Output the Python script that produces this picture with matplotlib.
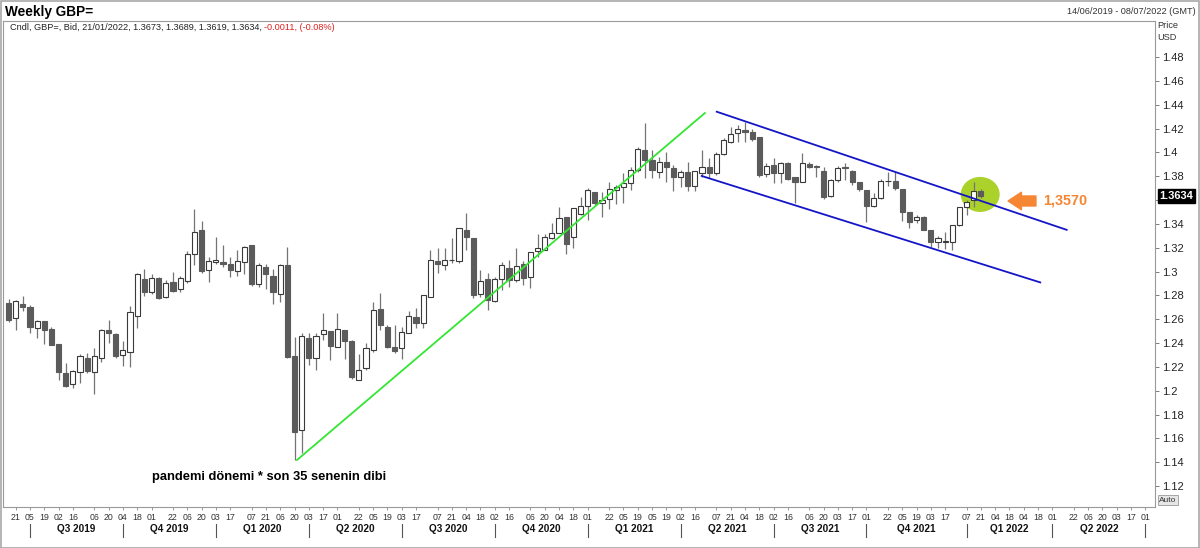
import numpy as np
import pandas as pd
import matplotlib
matplotlib.use("Agg")
import matplotlib.pyplot as plt
from matplotlib.patches import Ellipse, Rectangle
from matplotlib.transforms import blended_transform_factory

plt.rcParams["font.family"] = ["Liberation Sans", "DejaVu Sans"]

# weekly candles, first bar = week of 14/06/2019, last = 21/01/2022
START = "2019-06-14"

OPEN = [
    1.2740, 1.2607, 1.2728, 1.2702, 1.2524, 1.2582, 1.2521, 1.2395, 1.2152, 1.2057,
    1.2154, 1.2272, 1.2154, 1.2277, 1.2510, 1.2476, 1.2297, 1.2328, 1.2630, 1.2935,
    1.2831, 1.2949, 1.2784, 1.2912, 1.2856, 1.2923, 1.3144, 1.3346, 1.3009, 1.3077,
    1.3083, 1.3063, 1.3005, 1.3083, 1.3223, 1.2895, 1.3041, 1.2963, 1.2809, 1.3052,
    1.2294, 1.1671, 1.2440, 1.2272, 1.2473, 1.2501, 1.2370, 1.2509, 1.2417, 1.2090,
    1.2188, 1.2342, 1.2686, 1.2537, 1.2370, 1.2356, 1.2487, 1.2621, 1.2571, 1.2789,
    1.3088, 1.3055, 1.3094, 1.3088, 1.3348, 1.3284, 1.2809, 1.2934, 1.2755, 1.2934,
    1.3032, 1.2929, 1.3063, 1.2957, 1.3172, 1.3181, 1.3278, 1.3320, 1.3455, 1.3287,
    1.3480, 1.3553, 1.3670, 1.3572, 1.3606, 1.3684, 1.3712, 1.3740, 1.3852, 1.4019,
    1.3936, 1.3838, 1.3922, 1.3866, 1.3796, 1.3838, 1.3718, 1.3830, 1.3880, 1.3830,
    1.3983, 1.4089, 1.4159, 1.4187, 1.4173, 1.4131, 1.3818, 1.3894, 1.3824, 1.3913,
    1.3790, 1.3754, 1.3902, 1.3885, 1.3843, 1.3636, 1.3768, 1.3880, 1.3846, 1.3754,
    1.3684, 1.3550, 1.3614, 1.3759, 1.3759, 1.3690, 1.3502, 1.3432, 1.3460, 1.3348,
    1.3250, 1.3250, 1.3250, 1.3390, 1.3539, 1.3600, 1.3673,
]
HIGH = [
    1.2767, 1.2760, 1.2795, 1.2719, 1.2590, 1.2588, 1.2532, 1.2395, 1.2230, 1.2174,
    1.2308, 1.2319, 1.2361, 1.2515, 1.2593, 1.2482, 1.2420, 1.2714, 1.2991, 1.3021,
    1.2979, 1.2951, 1.2929, 1.2993, 1.2963, 1.3175, 1.3522, 1.3427, 1.3125, 1.3293,
    1.3220, 1.3125, 1.3178, 1.3217, 1.3223, 1.3069, 1.3060, 1.3021, 1.3063, 1.3209,
    1.2454, 1.2487, 1.2481, 1.2481, 1.2655, 1.2501, 1.2649, 1.2509, 1.2426, 1.2305,
    1.2398, 1.2747, 1.2823, 1.2551, 1.2551, 1.2537, 1.2669, 1.2691, 1.2803, 1.3181,
    1.3195, 1.3195, 1.3278, 1.3362, 1.3488, 1.3284, 1.3013, 1.2985, 1.2957, 1.3083,
    1.3097, 1.3195, 1.3088, 1.3167, 1.3315, 1.3315, 1.3404, 1.3544, 1.3455, 1.3530,
    1.3628, 1.3698, 1.3670, 1.3670, 1.3754, 1.3726, 1.3824, 1.3880, 1.4047, 1.4243,
    1.4019, 1.3964, 1.4006, 1.3894, 1.3852, 1.3922, 1.3843, 1.4019, 1.3950, 1.4006,
    1.4117, 1.4215, 1.4229, 1.4257, 1.4193, 1.4131, 1.3908, 1.3950, 1.3922, 1.3922,
    1.3790, 1.3992, 1.3922, 1.3894, 1.3880, 1.3776, 1.3885, 1.3908, 1.3852, 1.3754,
    1.3684, 1.3656, 1.3776, 1.3838, 1.3838, 1.3690, 1.3502, 1.3474, 1.3466, 1.3348,
    1.3298, 1.3334, 1.3390, 1.3544, 1.3600, 1.3754, 1.3689,
]
LOW = [
    1.2579, 1.2510, 1.2672, 1.2487, 1.2445, 1.2389, 1.2381, 1.2090, 1.2029, 1.2026,
    1.2068, 1.2152, 1.1973, 1.2244, 1.2398, 1.2272, 1.2210, 1.2202, 1.2524, 1.2795,
    1.2812, 1.2772, 1.2775, 1.2831, 1.2831, 1.2901, 1.3055, 1.2985, 1.2909, 1.3063,
    1.3035, 1.2957, 1.2965, 1.2979, 1.2881, 1.2873, 1.2853, 1.2728, 1.2742, 1.2277,
    1.1419, 1.1475, 1.2216, 1.2174, 1.2426, 1.2258, 1.2370, 1.2269, 1.2100, 1.2090,
    1.2174, 1.2328, 1.2509, 1.2356, 1.2319, 1.2263, 1.2487, 1.2523, 1.2523, 1.2789,
    1.2990, 1.3013, 1.3069, 1.3069, 1.3181, 1.2775, 1.2789, 1.2677, 1.2747, 1.2845,
    1.2873, 1.2915, 1.2887, 1.2859, 1.3119, 1.3181, 1.3273, 1.3320, 1.3144, 1.3195,
    1.3474, 1.3432, 1.3560, 1.3460, 1.3524, 1.3566, 1.3572, 1.3684, 1.3838, 1.3782,
    1.3782, 1.3782, 1.3754, 1.3678, 1.3712, 1.3678, 1.3678, 1.3796, 1.3782, 1.3810,
    1.3978, 1.4075, 1.4089, 1.4089, 1.4095, 1.3796, 1.3790, 1.3740, 1.3746, 1.3768,
    1.3578, 1.3754, 1.3866, 1.3796, 1.3608, 1.3622, 1.3754, 1.3768, 1.3726, 1.3678,
    1.3418, 1.3544, 1.3608, 1.3718, 1.3684, 1.3427, 1.3362, 1.3410, 1.3348, 1.3203,
    1.3195, 1.3186, 1.3181, 1.3382, 1.3474, 1.3539, 1.3619,
]
CLOSE = [
    1.2594, 1.2753, 1.2700, 1.2537, 1.2585, 1.2510, 1.2386, 1.2160, 1.2043, 1.2166,
    1.2294, 1.2166, 1.2294, 1.2510, 1.2487, 1.2294, 1.2339, 1.2658, 1.2982, 1.2826,
    1.2946, 1.2775, 1.2907, 1.2837, 1.2946, 1.3147, 1.3332, 1.3007, 1.3088, 1.3094,
    1.3063, 1.3013, 1.3088, 1.3209, 1.2895, 1.3052, 1.2977, 1.2826, 1.3052, 1.2286,
    1.1651, 1.2462, 1.2272, 1.2462, 1.2507, 1.2375, 1.2515, 1.2420, 1.2112, 1.2174,
    1.2356, 1.2677, 1.2551, 1.2370, 1.2333, 1.2490, 1.2630, 1.2571, 1.2803, 1.3097,
    1.3060, 1.3094, 1.3097, 1.3362, 1.3292, 1.2803, 1.2923, 1.2761, 1.2937, 1.3055,
    1.2929, 1.3049, 1.2948, 1.3167, 1.3200, 1.3292, 1.3320, 1.3446, 1.3231, 1.3530,
    1.3553, 1.3684, 1.3572, 1.3600, 1.3690, 1.3712, 1.3745, 1.3852, 1.4025, 1.3936,
    1.3852, 1.3922, 1.3880, 1.3796, 1.3838, 1.3718, 1.3843, 1.3880, 1.3824, 1.3983,
    1.4103, 1.4151, 1.4193, 1.4168, 1.4109, 1.3810, 1.3885, 1.3824, 1.3908, 1.3776,
    1.3754, 1.3908, 1.3880, 1.3874, 1.3622, 1.3768, 1.3871, 1.3866, 1.3748, 1.3690,
    1.3550, 1.3614, 1.3759, 1.3762, 1.3698, 1.3502, 1.3418, 1.3460, 1.3348, 1.3250,
    1.3278, 1.3253, 1.3390, 1.3544, 1.3586, 1.3678, 1.3634,
]

TICK_DATES = [
    "2019-06-21", "2019-07-05", "2019-07-19", "2019-08-02", "2019-08-16", "2019-09-06",
    "2019-09-20", "2019-10-04", "2019-10-18", "2019-11-01", "2019-11-22", "2019-12-06",
    "2019-12-20", "2020-01-03", "2020-01-17", "2020-02-07", "2020-02-21", "2020-03-06",
    "2020-03-20", "2020-04-03", "2020-04-17", "2020-05-01", "2020-05-22", "2020-06-05",
    "2020-06-19", "2020-07-03", "2020-07-17", "2020-08-07", "2020-08-21", "2020-09-04",
    "2020-09-18", "2020-10-02", "2020-10-16", "2020-11-06", "2020-11-20", "2020-12-04",
    "2020-12-18", "2021-01-01", "2021-01-22", "2021-02-05", "2021-02-19", "2021-03-05",
    "2021-03-19", "2021-04-02", "2021-04-16", "2021-05-07", "2021-05-21", "2021-06-04",
    "2021-06-18", "2021-07-02", "2021-07-16", "2021-08-06", "2021-08-20", "2021-09-03",
    "2021-09-17", "2021-10-01", "2021-10-22", "2021-11-05", "2021-11-19", "2021-12-03",
    "2021-12-17", "2022-01-07", "2022-01-21", "2022-02-04", "2022-02-18", "2022-03-04",
    "2022-03-18", "2022-04-01", "2022-04-22", "2022-05-06", "2022-05-20", "2022-06-03",
    "2022-06-17", "2022-07-01",
]

QUARTER_STARTS = [
    "2019-07-01", "2019-10-01", "2020-01-01", "2020-04-01", "2020-07-01", "2020-10-01",
    "2021-01-01", "2021-04-01", "2021-07-01", "2021-10-01", "2022-01-01", "2022-04-01",
    "2022-07-01",
]
QUARTER_LABELS = [
    "Q3 2019", "Q4 2019", "Q1 2020", "Q2 2020", "Q3 2020", "Q4 2020",
    "Q1 2021", "Q2 2021", "Q3 2021", "Q4 2021", "Q1 2022", "Q2 2022",
]

PRICE_TICKS = [1.12, 1.14, 1.16, 1.18, 1.2, 1.22, 1.24, 1.26, 1.28, 1.3,
               1.32, 1.34, 1.36, 1.38, 1.4, 1.42, 1.44, 1.46, 1.48]

# hand-drawn trend lines (week index, price)
GREEN_X = [40.35, 97.4]
GREEN_Y = [1.1419, 1.4330]
BLUE_TOP_X = [99.05, 148.0]
BLUE_TOP_Y = [1.4341, 1.3350]
BLUE_BOT_X = [96.95, 144.3]
BLUE_BOT_Y = [1.3802, 1.2909]

LAST_PRICE = 1.3634
LEVEL_TEXT = "1,3570"
NOTE_TEXT = "pandemi dönemi * son 35 senenin dibi"

DARK = "#5b5b5b"
WICK = "#747474"
ORANGE = "#f58634"

start = pd.Timestamp(START)


def week_pos(d):
    return (pd.Timestamp(d) - start).days / 7.0


fig = plt.figure(figsize=(12, 5.48), dpi=100)
fig.patch.set_facecolor("white")
W, H = 1200.0, 548.0

# plot box in pixels: left 3, right 1155, top 21, bottom 507
ax = fig.add_axes([3 / W, 1 - 507 / H, 1152 / W, 486 / H])
ax.set_xlim(-0.77, 160.35)
ax.set_ylim(1.48 - (507 - 57) / 1192, 1.48 + (57 - 21) / 1192)

o = np.array(OPEN)
h = np.array(HIGH)
l = np.array(LOW)
c = np.array(CLOSE)
idx = np.arange(len(c))
up = c >= o
bottoms = np.minimum(o, c)
heights = np.maximum(np.abs(c - o), 0.0003)

ax.vlines(idx, l, h, color=WICK, lw=0.9, zorder=3)
ax.bar(idx[up], heights[up], bottom=bottoms[up], width=0.72,
       color="white", edgecolor="#3a3a3a", lw=0.8, zorder=4)
ax.bar(idx[~up], heights[~up], bottom=bottoms[~up], width=0.72,
       color=DARK, edgecolor=DARK, lw=0.8, zorder=4)

# highlight circle around the last bars
ax.add_patch(Ellipse((135.9, 1.3647), 5.45, 0.0294, facecolor="#aad22a",
                     edgecolor="none", zorder=2))

ax.plot(GREEN_X, GREEN_Y, color="#33e633", lw=1.3, zorder=5)
ax.plot(BLUE_TOP_X, BLUE_TOP_Y, color="#1515c8", lw=1.3, zorder=5)
ax.plot(BLUE_BOT_X, BLUE_BOT_Y, color="#1515c8", lw=1.3, zorder=5)

ax.annotate("", xy=(139.8, 1.3592), xytext=(143.7, 1.3592),
            arrowprops=dict(arrowstyle="simple,head_length=0.8,head_width=1.05,tail_width=0.6",
                            color=ORANGE, shrinkA=0, shrinkB=0, mutation_scale=12),
            zorder=6)
ax.text(144.7, 1.3592, LEVEL_TEXT, color=ORANGE, fontsize=10.4,
        fontweight="bold", va="center", ha="left", zorder=6)
ax.text(20.1, 1.1277, NOTE_TEXT, color="black", fontsize=9.3,
        fontweight="bold", va="center", ha="left", zorder=6)

# right price axis
ax.yaxis.tick_right()
ax.set_yticks(PRICE_TICKS)
ax.set_yticklabels([f"{v:g}" for v in PRICE_TICKS])
ax.tick_params(axis="y", length=3, width=0.6, color="#666666", pad=2,
               labelsize=8, labelcolor="#222222")

# last price box sits over the axis labels, as in the terminal
ax.annotate(f"{LAST_PRICE:.4f}", xy=(1.0, LAST_PRICE),
            xycoords=("axes fraction", "data"), xytext=(3, 0),
            textcoords="offset points", va="center", ha="left",
            fontsize=8, fontweight="bold", color="white", annotation_clip=False,
            bbox=dict(boxstyle="square,pad=0.15", facecolor="black", edgecolor="black"),
            zorder=10)

# weekly day ticks
tick_pos = [week_pos(d) for d in TICK_DATES]
ax.set_xticks(tick_pos)
ax.set_xticklabels([pd.Timestamp(d).strftime("%d") for d in TICK_DATES])
ax.tick_params(axis="x", length=2, width=0.6, color="#888888", pad=2,
               labelsize=6.3, labelcolor="#333333")

# quarter separators (first weekly bar of each quarter) and labels
trans = blended_transform_factory(ax.transData, ax.transAxes)
q_pos = [np.ceil(week_pos(d)) for d in QUARTER_STARTS]
for qp in q_pos:
    ax.plot([qp, qp], [-0.035, -0.062], transform=trans, color="#555555",
            lw=0.8, clip_on=False)
for a, b, lab in zip(q_pos[:-1], q_pos[1:], QUARTER_LABELS):
    ax.text((a + b) / 2, -0.046, lab, transform=trans, ha="center", va="center",
            fontsize=7.2, fontweight="bold", color="#111111")

for side in ["top", "right", "left", "bottom"]:
    ax.spines[side].set_color("#9a9a9a")
    ax.spines[side].set_linewidth(0.8)

# header texts
fig.text(5 / W, 1 - 12 / H, "Weekly GBP=", fontsize=9.8, fontweight="bold",
         va="center", ha="left")
info = fig.text(10 / W, 1 - 27 / H,
                "Cndl, GBP=, Bid, 21/01/2022, 1.3673, 1.3689, 1.3619, 1.3634, ",
                fontsize=6.6, va="center", ha="left", color="#222222")
fig.add_artist(plt.Annotation("-0.0011, (-0.08%)", xy=(1, 0), xycoords=info,
                              va="bottom", ha="left", fontsize=6.6, color="#e02020"))
fig.text(1196 / W, 1 - 12 / H, "14/06/2019 - 08/07/2022 (GMT)", fontsize=6.6,
         va="center", ha="right", color="#333333")
fig.text(1157 / W, 1 - 25 / H, "Price", fontsize=6.6, va="center", ha="left", color="#333333")
fig.text(1157 / W, 1 - 38 / H, "USD", fontsize=6.6, va="center", ha="left", color="#333333")
fig.text(1159 / W, 1 - 500 / H, "Auto", fontsize=6, va="center", ha="left", color="#333333",
         bbox=dict(boxstyle="square,pad=0.15", facecolor="#e6e6e6", edgecolor="#999999", lw=0.6))

fig.add_artist(Rectangle((0.5 / W, 0.5 / H), 1 - 1.5 / W, 1 - 1.5 / H,
                         transform=fig.transFigure, fill=False,
                         edgecolor="#a8a8a8", lw=1.2))

fig.savefig("out.png", dpi=100)
